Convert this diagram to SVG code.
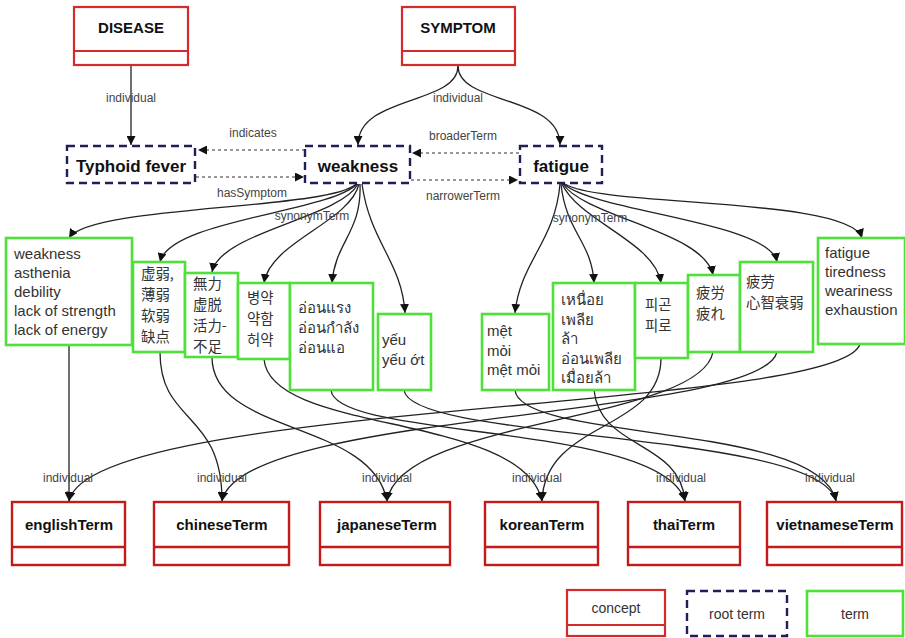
<svg xmlns="http://www.w3.org/2000/svg" width="905" height="638" viewBox="0 0 905 638">
<defs>
<style>
.concept{fill:#fff;stroke:#d42a2a;stroke-width:2.2}
.concept2{fill:#fff;stroke:#c41a1a;stroke-width:2.4}
.root{fill:#fff;stroke:#1e1e5a;stroke-width:2.4;stroke-dasharray:8 5}
.term{fill:#fff;stroke:#4fe03a;stroke-width:2.6}
.ct{font-family:"Liberation Sans",Arial,sans-serif;font-weight:bold;font-size:15px;fill:#111;text-anchor:middle}
.rt{font-family:"Liberation Sans",Arial,sans-serif;font-weight:bold;font-size:17px;fill:#111;text-anchor:middle}
.tt{font-family:"Liberation Sans","Noto Sans",sans-serif;font-size:15px;fill:#333}
.sc{font-family:"Noto Sans CJK SC",sans-serif;font-size:14.4px;fill:#333}
.jp{font-family:"Noto Sans CJK JP",sans-serif;font-size:14.4px;fill:#333}
.kr{font-family:"Noto Sans CJK KR",sans-serif;font-size:14.4px;fill:#333}
.th{font-family:"Noto Sans","DejaVu Sans",sans-serif;font-size:15px;fill:#333}
.lb{font-family:"Liberation Sans",Arial,sans-serif;font-size:12px;fill:#444;text-anchor:middle}
.lg{font-family:"Liberation Sans",Arial,sans-serif;font-size:14px;fill:#333;text-anchor:middle}
.e{fill:none;stroke:#222;stroke-width:1.3;marker-end:url(#arr)}
.d{fill:none;stroke:#333;stroke-width:1.2;stroke-dasharray:3 3;marker-end:url(#arr)}
</style>
<marker id="arr" viewBox="0 0 10 10" refX="10" refY="5" markerWidth="9" markerHeight="9" markerUnits="userSpaceOnUse" orient="auto"><path d="M0,0 L10,5 L0,10 z" fill="#111"/></marker>
</defs>
<rect width="905" height="638" fill="#fff"/>

<g id="connectors">
<path class="e" d="M131,66 L131,145"/>
<path class="e" d="M458,66 C458,105 358,95 358,145"/>
<path class="e" d="M458,66 C458,105 560,95 560,145"/>
<path class="d" d="M305,150 L198,150"/>
<path class="d" d="M196,177 L304,177"/>
<path class="d" d="M519,153 L412,153"/>
<path class="d" d="M411,180 L518,180"/>
<path class="e" d="M356,184 C330,210 90,205 69,238"/>
<path class="e" d="M357,184 C330,212 170,220 160,262"/>
<path class="e" d="M358,184 C340,218 220,232 212,272"/>
<path class="e" d="M359,184 C350,222 270,242 264,283"/>
<path class="e" d="M360,184 C362,232 335,242 332,283"/>
<path class="e" d="M362,184 C370,242 402,262 405,313"/>
<path class="e" d="M560,184 C555,242 520,262 515,313"/>
<path class="e" d="M561,184 C566,232 592,242 594,283"/>
<path class="e" d="M562,184 C580,222 655,242 661,283"/>
<path class="e" d="M563,184 C585,217 705,232 713,275"/>
<path class="e" d="M564,184 C595,212 770,222 777,262"/>
<path class="e" d="M565,184 C600,207 850,197 862,238"/>
<path class="e" d="M69,345 L69,501"/>
<path class="e" d="M160,352 C160,425 222,410 222,501"/>
<path class="e" d="M212,357 C212,435 372,420 387,501"/>
<path class="e" d="M264,359 C270,435 522,412 542,501"/>
<path class="e" d="M331,390 C335,440 662,422 685,501"/>
<path class="e" d="M404,390 C410,442 820,430 836,501"/>
<path class="e" d="M515,390 C520,442 820,422 836,501"/>
<path class="e" d="M594,390 C600,450 680,440 685,501"/>
<path class="e" d="M661,358 C661,432 545,420 542,501"/>
<path class="e" d="M713,352 C700,422 400,418 387,501"/>
<path class="e" d="M777,352 C760,420 240,410 222,501"/>
<path class="e" d="M860,344 C840,412 90,400 69,501"/>
<text class="lb" x="131" y="102">individual</text>
<text class="lb" x="458" y="102">individual</text>
<text class="lb" x="253" y="137">indicates</text>
<text class="lb" x="252" y="197">hasSymptom</text>
<text class="lb" x="463" y="140">broaderTerm</text>
<text class="lb" x="463" y="200">narrowerTerm</text>
<text class="lb" x="312" y="220">synonymTerm</text>
<text class="lb" x="590" y="222">synonymTerm</text>
<text class="lb" x="68" y="482">individual</text>
<text class="lb" x="222" y="482">individual</text>
<text class="lb" x="387" y="482">individual</text>
<text class="lb" x="537" y="482">individual</text>
<text class="lb" x="681" y="482">individual</text>
<text class="lb" x="830" y="482">individual</text>
</g>

<g id="disease"><rect class="concept" x="74" y="7" width="114" height="58"/><line class="concept" x1="74" y1="51" x2="188" y2="51"/><text class="ct" x="131" y="33">DISEASE</text></g>
<g id="symptom"><rect class="concept" x="402" y="7" width="113" height="58"/><line class="concept" x1="402" y1="51" x2="515" y2="51"/><text class="ct" x="458" y="33">SYMPTOM</text></g>

<g id="typhoid"><rect class="root" x="67" y="146" width="128" height="37"/><text class="rt" x="131" y="172">Typhoid fever</text></g>
<g id="weakness"><rect class="root" x="305" y="146" width="105" height="37"/><text class="rt" x="358" y="172">weakness</text></g>
<g id="fatigue"><rect class="root" x="520" y="146" width="82" height="37"/><text class="rt" x="561" y="172">fatigue</text></g>

<g id="w-en"><rect class="term" x="6" y="238" width="126" height="107"/><text class="tt"><tspan x="14" y="259">weakness</tspan><tspan x="14" y="278">asthenia</tspan><tspan x="14" y="297">debility</tspan><tspan x="14" y="316">lack of strength</tspan><tspan x="14" y="335">lack of energy</tspan></text></g>
<g id="w-zh"><rect class="term" x="133" y="262" width="52" height="90"/><text class="sc"><tspan x="141" y="279">虚弱,</tspan><tspan x="141" y="300">薄弱</tspan><tspan x="141" y="321">软弱</tspan><tspan x="141" y="342">缺点</tspan></text></g>
<g id="w-ja"><rect class="term" x="185" y="273" width="53" height="84"/><text class="jp"><tspan x="193" y="289">無力</tspan><tspan x="193" y="310">虚脱</tspan><tspan x="193" y="331">活力-</tspan><tspan x="193" y="352">不足</tspan></text></g>
<g id="w-ko"><rect class="term" x="238" y="283" width="52" height="76"/><text class="kr"><tspan x="247" y="303">병약</tspan><tspan x="247" y="324">약함</tspan><tspan x="247" y="345">허약</tspan></text></g>
<g id="w-th"><rect class="term" x="290" y="283" width="83" height="107"/><text class="th"><tspan x="298" y="313">อ่อนแรง</tspan><tspan x="298" y="333">อ่อนกำลัง</tspan><tspan x="298" y="353">อ่อนแอ</tspan></text></g>
<g id="w-vi"><rect class="term" x="378" y="314" width="53" height="76"/><text class="tt"><tspan x="382" y="345">yếu</tspan><tspan x="382" y="365">yếu ớt</tspan></text></g>

<g id="f-vi"><rect class="term" x="482" y="314" width="67" height="76"/><text class="tt"><tspan x="487" y="336">mệt</tspan><tspan x="487" y="356">mỏi</tspan><tspan x="487" y="375">mệt mỏi</tspan></text></g>
<g id="f-th"><rect class="term" x="553" y="283" width="82" height="107"/><text class="th"><tspan x="561" y="305">เหนื่อย</tspan><tspan x="561" y="325">เพลีย</tspan><tspan x="561" y="344">ล้า</tspan><tspan x="561" y="364">อ่อนเพลีย</tspan><tspan x="561" y="383">เมื่อยล้า</tspan></text></g>
<g id="f-ko"><rect class="term" x="635" y="283" width="53" height="75"/><text class="kr"><tspan x="645" y="310">피곤</tspan><tspan x="645" y="331">피로</tspan></text></g>
<g id="f-ja"><rect class="term" x="688" y="275" width="52" height="77"/><text class="jp"><tspan x="696" y="298">疲労</tspan><tspan x="696" y="319">疲れ</tspan></text></g>
<g id="f-zh"><rect class="term" x="740" y="262" width="73" height="90"/><text class="sc"><tspan x="746" y="287">疲劳</tspan><tspan x="746" y="308">心智衰弱</tspan></text></g>
<g id="f-en"><rect class="term" x="818" y="238" width="87" height="106"/><text class="tt"><tspan x="825" y="258">fatigue</tspan><tspan x="825" y="277">tiredness</tspan><tspan x="825" y="296">weariness</tspan><tspan x="825" y="315">exhaustion</tspan></text></g>

<g id="englishTerm"><rect class="concept2" x="12" y="502" width="113" height="63"/><line class="concept2" x1="12" y1="547" x2="125" y2="547"/><text class="ct" x="69" y="530">englishTerm</text></g>
<g id="chineseTerm"><rect class="concept2" x="154" y="502" width="135" height="63"/><line class="concept2" x1="154" y1="547" x2="289" y2="547"/><text class="ct" x="222" y="530">chineseTerm</text></g>
<g id="japaneseTerm"><rect class="concept2" x="320" y="502" width="130" height="63"/><line class="concept2" x1="320" y1="547" x2="450" y2="547"/><text class="ct" x="387" y="530">japaneseTerm</text></g>
<g id="koreanTerm"><rect class="concept2" x="485" y="502" width="113" height="63"/><line class="concept2" x1="485" y1="547" x2="598" y2="547"/><text class="ct" x="542" y="530">koreanTerm</text></g>
<g id="thaiTerm"><rect class="concept2" x="628" y="502" width="112" height="63"/><line class="concept2" x1="628" y1="547" x2="740" y2="547"/><text class="ct" x="684" y="530">thaiTerm</text></g>
<g id="vietnameseTerm"><rect class="concept2" x="767" y="502" width="135" height="63"/><line class="concept2" x1="767" y1="547" x2="902" y2="547"/><text class="ct" x="835" y="530">vietnameseTerm</text></g>

<g id="legend-concept"><rect class="concept" x="567" y="590" width="98" height="46"/><line class="concept" x1="567" y1="625" x2="665" y2="625"/><text class="lg" x="616" y="613">concept</text></g>
<g id="legend-root"><rect class="root" x="687" y="591" width="100" height="45"/><text class="lg" x="737" y="619">root term</text></g>
<g id="legend-term"><rect class="term" x="807" y="591" width="96" height="45"/><text class="lg" x="855" y="619">term</text></g>
</svg>
